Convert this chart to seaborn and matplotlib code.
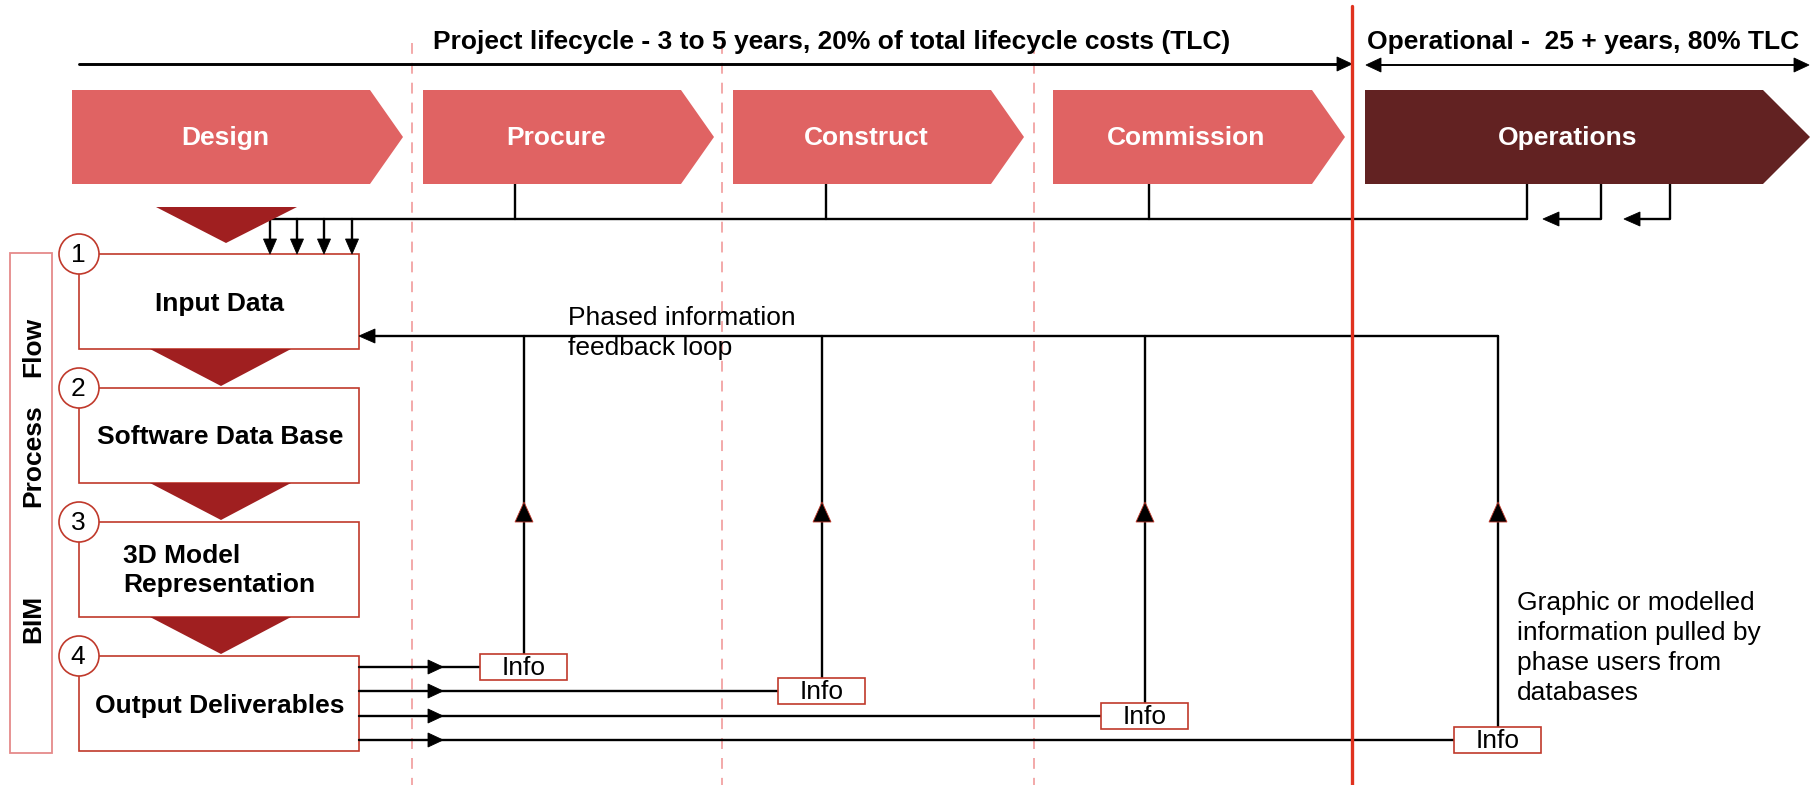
import matplotlib
matplotlib.use("Agg")
import matplotlib.pyplot as plt
from matplotlib.patches import Polygon, Rectangle, Circle
import seaborn as sns

# phases along the top
phases = ["Design", "Procure", "Construct", "Commission", "Operations"]
phase_left = [72, 423, 733, 1053, 1365]
phase_right = [403, 714, 1024, 1345, 1810]
phase_notch = [33, 33, 33, 33, 47]
phase_colors = ["#E06363", "#E06363", "#E06363", "#E06363", "#622222"]

# BIM process steps
steps = ["Input Data", "Software Data Base", "3D Model\nRepresentation", "Output Deliverables"]
step_nums = ["1", "2", "3", "4"]
step_top = [254, 388, 522, 656]

# info pulled by each phase
info_x = [524, 822, 1145, 1498]
info_y = [667, 691, 716, 740]

divider_x = [412, 722, 1034]
ops_split = 1352
phase_taps = [515, 826, 1149, 1527]
ops_hooks = [(1601, 1543), (1670, 1624)]
input_drops = [270, 297, 324, 352]

side_words = ["BIM", "Process", "Flow"]
side_y = [619, 456, 347]

top_title = "Project lifecycle - 3 to 5 years, 20% of total lifecycle costs (TLC)"
ops_title = "Operational -  25 + years, 80% TLC"
loop_note = "Phased information\nfeedback loop"
pull_note = "Graphic or modelled\ninformation pulled by\nphase users from\ndatabases"

sns.set_theme(style="white")
plt.rcParams['font.family'] = ['Liberation Sans', 'DejaVu Sans']
plt.rcParams['text.color'] = 'black'

fig = plt.figure(figsize=(18.15, 7.85), dpi=100)
ax = fig.add_axes([0, 0, 1, 1])
ax.set_xlim(0, 1815)
ax.set_ylim(785, 0)
ax.axis('off')

BOX_RED = "#C0392B"
TRI_RED = "#A01F20"
LW = 1.7
FS = 19


def head(x, y, d, length=15, width=14, color="black"):
    # filled arrow head with tip at (x, y)
    if d == "right":
        pts = [(x, y), (x - length, y - width / 2), (x - length, y + width / 2)]
    elif d == "left":
        pts = [(x, y), (x + length, y - width / 2), (x + length, y + width / 2)]
    elif d == "down":
        pts = [(x, y), (x - width / 2, y - length), (x + width / 2, y - length)]
    else:
        pts = [(x, y), (x - width / 2, y + length), (x + width / 2, y + length)]
    ax.add_patch(Polygon(pts, closed=True, facecolor="black", edgecolor=color, lw=0.6, zorder=6))


# dashed phase dividers and the project / operations split
for dx in divider_x:
    ax.plot([dx, dx], [43, 785], color="#F2A2A2", lw=1.3, ls=(0, (6, 5)), zorder=1)
ax.plot([ops_split, ops_split], [6, 785], color="#E0321F", lw=2.4, zorder=7)

# headline arrows
ax.plot([79, ops_split - 12], [64, 64], color="black", lw=2.1, zorder=3)
head(ops_split, 64, "right", 15, 14)
ax.plot([1380, 1795], [65, 65], color="black", lw=1.4, zorder=3)
head(1366, 65, "left", 15, 14)
head(1809, 65, "right", 15, 14)
ax.text(433, 42, top_title, fontsize=FS, fontweight="bold", ha="left", va="center")
ax.text(1367, 42, ops_title, fontsize=FS, fontweight="bold", ha="left", va="center")

# chevrons
top, bot = 90, 184
mid = (top + bot) / 2
for name, l, r, n, c in zip(phases, phase_left, phase_right, phase_notch, phase_colors):
    ax.add_patch(Polygon([(l, top), (r - n, top), (r, mid), (r - n, bot), (l, bot)],
                         closed=True, facecolor=c, edgecolor="none", zorder=4))
    cx = (l + r - n) / 2 + 4
    ax.text(cx, mid + 1, name, color="white", fontsize=FS, fontweight="bold",
            ha="center", va="center", zorder=5)

# collector line from phases into input data
ax.plot([input_drops[0], phase_taps[-1]], [219, 219], color="black", lw=LW, zorder=3)
for tx in phase_taps:
    ax.plot([tx, tx], [bot, 219], color="black", lw=LW, zorder=3)
for dx in input_drops:
    ax.plot([dx, dx], [219, 240], color="black", lw=LW, zorder=3)
    head(dx, 254, "down", 15, 13)
for hx, tip in ops_hooks:
    ax.plot([hx, hx, tip + 14], [bot, 219, 219], color="black", lw=LW, zorder=3)
    head(tip, 219, "left", 16, 14)

# big down triangle under Design
ax.add_patch(Polygon([(156, 207), (297, 207), (226, 243)], closed=True,
                     facecolor=TRI_RED, edgecolor="none", zorder=4))

# side label box
ax.add_patch(Rectangle((10, 253), 42, 500, facecolor="none", edgecolor="#E58A8A", lw=1.3, zorder=3))
for word, yy in zip(side_words, side_y):
    ax.text(33, yy, word, rotation=90, fontsize=FS, fontweight="bold", ha="center", va="center")

# process step boxes
box_l, box_r, box_h = 79, 359, 95
for i, (label, num, y0) in enumerate(zip(steps, step_nums, step_top)):
    ax.add_patch(Rectangle((box_l, y0), box_r - box_l, box_h, facecolor="white",
                           edgecolor=BOX_RED, lw=1.2, zorder=3))
    ax.add_patch(Circle((box_l, y0), 20, facecolor="white", edgecolor=BOX_RED, lw=1.2, zorder=5))
    ax.text(box_l - 1, y0 + 1, num, fontsize=FS, ha="center", va="center", zorder=6)
    if "\n" in label:
        ax.text(123, y0 + box_h / 2 + 1, label, fontsize=FS, fontweight="bold",
                ha="left", va="center", linespacing=1.3, zorder=6)
    else:
        ax.text(220, y0 + box_h / 2 + 2, label, fontsize=FS, fontweight="bold",
                ha="center", va="center", zorder=6)
    if i < len(steps) - 1:
        ax.add_patch(Polygon([(150, y0 + box_h), (291, y0 + box_h), (221, step_top[i + 1] - 2)],
                             closed=True, facecolor=TRI_RED, edgecolor="none", zorder=4))

# feedback loop back into Input Data
ax.plot([box_r + 14, info_x[-1]], [336, 336], color="black", lw=LW, zorder=3)
head(box_r, 336, "left", 16, 14)
ax.text(568, 333, loop_note, fontsize=FS, ha="left", va="center", linespacing=1.3, zorder=8)

# outputs to info boxes, info pulled back up
iw, ih = 87, 26
for ix, iy in zip(info_x, info_y):
    ax.plot([box_r, ix - iw / 2], [iy, iy], color="black", lw=LW, zorder=3)
    head(443, iy, "right", 15, 14)
    ax.plot([ix, ix], [336, iy - ih / 2], color="black", lw=LW, zorder=3)
    head(ix, 502, "up", 20, 18, color=BOX_RED)
    ax.add_patch(Rectangle((ix - iw / 2, iy - ih / 2), iw, ih, facecolor="white",
                           edgecolor=BOX_RED, lw=1.2, zorder=5))
    ax.text(ix, iy + 1, "Info", fontsize=FS, ha="center", va="center", zorder=6)

ax.text(1517, 648, pull_note, fontsize=FS, ha="left", va="center", linespacing=1.3, zorder=8)

fig.savefig("out.png", dpi=100)
